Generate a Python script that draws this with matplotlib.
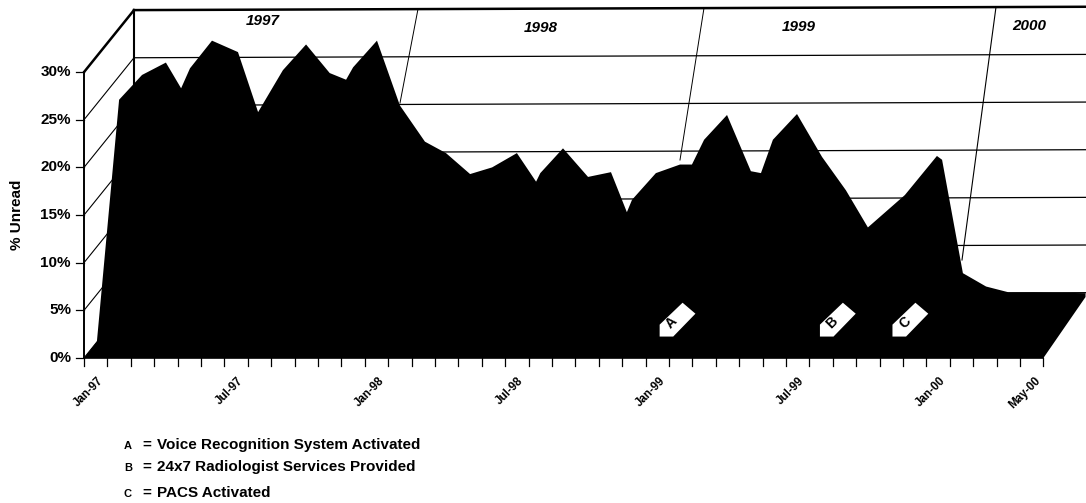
# -*- coding: utf-8 -*-
import matplotlib
matplotlib.use('Agg')
from matplotlib import pyplot as plt
from matplotlib.patches import Polygon

# --- data ---
# silhouette of the 3d area: position in months after Jan-97, height in percent
months = [0, 0.55, 1.5, 2.48, 3.5, 4.15, 4.53, 5.47, 6.58, 7.44, 8.5, 9.49, 10.5, 11.2, 11.5,
          12.52, 13.5, 14.57, 15.47, 16.5, 17.44, 18.5, 19.32, 19.5, 20.47, 21.54, 22.52,
          23.2, 23.42, 24.44, 25.47, 25.98, 26.5, 27.48, 28.5, 28.93, 29.44, 30.47, 31.54,
          32.56, 33.5, 35.08, 36.45, 36.67, 37.56, 38.55, 39.5, 40.6, 42.8, 42.8, 41]
unread = [0, 1.7, 27.1, 29.7, 31.0, 28.3, 30.4, 33.3, 32.1, 25.8, 30.2, 32.9, 29.9, 29.2, 30.5,
          33.3, 26.5, 22.7, 21.5, 19.3, 20.0, 21.5, 18.5, 19.4, 22.0, 19.0, 19.5,
          15.3, 16.6, 19.4, 20.3, 20.3, 22.9, 25.5, 19.6, 19.4, 22.9, 25.6, 21.1,
          17.6, 13.7, 17.1, 21.2, 20.8, 8.9, 7.5, 6.9, 6.9, 6.8, 6.4, 0]

y_ticks = [0, 5, 10, 15, 20, 25, 30]
y_labels = ['0%', '5%', '10%', '15%', '20%', '25%', '30%']
x_tick_months = [0, 6, 12, 18, 24, 30, 36, 40]
x_labels = ['Jan-97', 'Jul-97', 'Jan-98', 'Jul-98', 'Jan-99', 'Jul-99', 'Jan-00', 'May-00']
years = ['1997', '1998', '1999', '2000']
year_label_months = [7.65, 19.5, 30.55, 40.4]
year_label_px = [21, 28, 27, 26]
event_letters = ['A', 'B', 'C']
event_months = [25.6, 32.45, 35.55]
legend_text = ['Voice Recognition System Activated', '24x7 Radiologist Services Provided', 'PACS Activated']

# --- scale: 23.4 px per month, 9.53 px per percent ---
PX_M = 23.4
PX_P = 9.53
W, H = 1086, 503
X0, Y0 = 84, 358
DX, DY = 50 / PX_M, 62 / PX_P  # depth of the floor

def mx(px):
    return (px - X0) / PX_M

def py(px):
    return (Y0 - px) / PX_P

plt.rcParams['font.family'] = ['Liberation Sans', 'DejaVu Sans']
fig = plt.figure(figsize=(W / 100, H / 100), dpi=100)
ax = fig.add_axes([0, 0, 1, 1])
ax.set_xlim(mx(0), mx(W))
ax.set_ylim(py(H), py(0))
ax.axis('off')

# --- back wall and side wall ---
for i, t in enumerate(y_ticks):
    lw = 1.8 if t == 30 else 0.9
    # back wall rises a little to the right
    ax.plot([DX, mx(W)], [t + DY, t + DY + 0.35], color='k', lw=lw, zorder=1)
    ax.plot([0, DX], [t, t + DY], color='k', lw=1.8 if t == 30 else 0.8, zorder=1)
    ax.plot([mx(76), 0], [t, t], color='k', lw=0.9, zorder=3)
    ax.text(mx(71), t, y_labels[i], ha='right', va='center', fontsize=11, fontweight='bold')
ax.plot([DX, DX], [DY, 30 + DY], color='k', lw=1.5, zorder=1)

# year separators on the back wall
ax.plot([mx(418), mx(400)], [py(9), py(103)], color='k', lw=0.7, zorder=1)
ax.plot([mx(704), mx(680)], [py(8), py(160)], color='k', lw=0.7, zorder=1)
ax.plot([mx(996), mx(962)], [py(7), py(260)], color='k', lw=0.8, zorder=1)

# --- the area ---
ax.fill(months, unread, color='k', lw=0, zorder=2)

# --- front axes ---
ax.plot([0, 0], [0, 30], color='k', lw=1.4, zorder=3)
ax.plot([0, 41], [0, 0], color='k', lw=1.2, zorder=3)
for m in range(42):
    ax.plot([m, m], [0, py(366)], color='k', lw=0.9, zorder=3)
for m, lab in zip(x_tick_months, x_labels):
    ax.text(m + 0.2, py(375), lab, rotation=45, ha='center', va='top', rotation_mode='default',
            fontsize=8.3, fontweight='bold')

ax.text(mx(17), py(215), '% Unread', rotation=90, ha='center', va='center', fontsize=11, fontweight='bold')

# --- year labels ---
for m, y, lab in zip(year_label_months, year_label_px, years):
    ax.text(m, py(y), lab, ha='center', va='center', fontsize=11, fontweight='bold', style='italic')

# --- event tags, tip at lower left ---
tag_dx = [-1.0, -0.02, 0.53, -0.42, -1.0]
tag_dy = [3.5, 5.8, 4.65, 2.25, 2.25]
for m, lab in zip(event_months, event_letters):
    pts = [(m + a, b) for a, b in zip(tag_dx, tag_dy)]
    ax.add_patch(Polygon(pts, closed=True, fc='w', ec='none', zorder=4))
    ax.text(m - 0.48, 3.7, lab, rotation=45, ha='center', va='center', fontsize=10, fontweight='bold',
            color='k', zorder=5)

# --- legend ---
for i, y in enumerate([445, 467, 493]):
    ax.text(mx(128), py(y + 1), event_letters[i], ha='center', va='center', fontsize=8, fontweight='bold')
    ax.text(mx(142), py(y), '=', ha='left', va='center', fontsize=11, fontweight='bold')
    ax.text(mx(157), py(y), legend_text[i], ha='left', va='center', fontsize=11, fontweight='bold')

plt.savefig('out.png', dpi=100)
